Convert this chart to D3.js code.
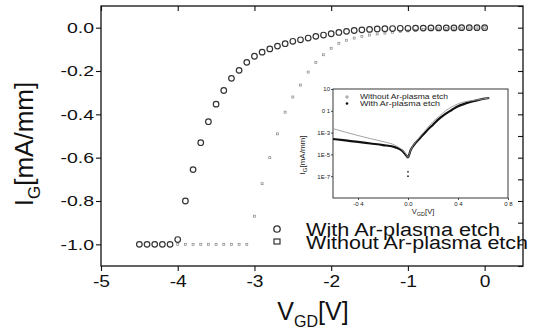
<!DOCTYPE html>
<html>
<head>
<meta charset="utf-8">
<script src="https://cdn.jsdelivr.net/npm/d3@7"></script>
<style>
  body { margin: 0; background: #fff; }
  svg { display: block; font-family: Arial, 'Liberation Sans', sans-serif; }
</style>
</head>
<body>
<script>
// main plot: gate current vs gate-drain voltage
const vWith = [-4.5, -4.4, -4.3, -4.2, -4.1, -4.0, -3.9, -3.8, -3.7, -3.6, -3.5, -3.4, -3.3, -3.2, -3.1,
  -3.0, -2.9, -2.8, -2.7, -2.6, -2.5, -2.4, -2.3, -2.2, -2.1, -2.0, -1.9, -1.8, -1.7, -1.6,
  -1.5, -1.4, -1.3, -1.2, -1.1, -1.0, -0.9, -0.8, -0.7, -0.6, -0.5, -0.4, -0.3, -0.2, -0.1, 0.0];
const iWith = [-1.0, -1.0, -1.0, -1.0, -1.0, -0.978, -0.80, -0.655, -0.531, -0.434, -0.353, -0.29, -0.234, -0.197, -0.16,
  -0.132, -0.113, -0.098, -0.085, -0.074, -0.063, -0.056, -0.048, -0.040, -0.034, -0.028, -0.022, -0.017, -0.013, -0.010,
  -0.008, -0.006, -0.005, -0.004, -0.003, -0.003, -0.002, -0.002, -0.001, -0.001, -0.001, -0.001, 0, 0, 0, 0];

const vWithout = [-4.0, -3.9, -3.8, -3.7, -3.6, -3.5, -3.4, -3.3, -3.2, -3.1,
  -3.0, -2.9, -2.8, -2.7, -2.6, -2.5, -2.4, -2.3, -2.2, -2.1, -2.0, -1.9, -1.8, -1.7, -1.6,
  -1.5, -1.4, -1.3, -1.2, -1.1, -1.0, -0.9, -0.8, -0.7, -0.6, -0.5, -0.4, -0.3, -0.2, -0.1, 0.0];
const iWithout = [-1.0, -1.0, -1.0, -1.0, -1.0, -1.0, -1.0, -1.0, -1.0, -1.0,
  -0.87, -0.72, -0.60, -0.49, -0.39, -0.32, -0.265, -0.205, -0.16, -0.125, -0.095, -0.072, -0.058, -0.048, -0.040,
  -0.034, -0.029, -0.025, -0.021, -0.018, -0.015, -0.012, -0.009, -0.007, -0.005, -0.004, -0.003, -0.002, -0.001, -0.001, 0];

const xTicks = [-5, -4, -3, -2, -1, 0];
const yTicks = [0.0, -0.2, -0.4, -0.6, -0.8, -1.0];
const legendLabels = ['With Ar-plasma etch', 'Without Ar-plasma etch'];

// inset: log |I_G| vs V_GD
const insetVWith = [-0.6, -0.5, -0.4, -0.3, -0.2, -0.1, -0.05, -0.02, 0, 0.02, 0.05, 0.1, 0.15, 0.2, 0.25, 0.3, 0.35, 0.4, 0.45, 0.5, 0.55, 0.6, 0.65];
const insetIWith = [2.6e-4, 1.9e-4, 1.4e-4, 1.0e-4, 7.2e-5, 4.4e-5, 2.3e-5, 1.0e-5, 5.4e-6, 2.3e-5, 8.1e-5, 3.5e-4, 1.5e-3, 5.3e-3, 1.9e-2, 5.3e-2, 0.12, 0.26, 0.43, 0.66, 0.9, 1.23, 1.5];
const insetVWithout = [-0.6, -0.5, -0.4, -0.3, -0.2, -0.1, -0.05, -0.02, 0, 0.02, 0.05, 0.1, 0.15, 0.2, 0.25, 0.3, 0.35, 0.4, 0.45, 0.5, 0.55, 0.6, 0.65];
const insetIWithout = [2.3e-3, 1.1e-3, 5.4e-4, 2.8e-4, 1.5e-4, 6.6e-5, 2.8e-5, 1.2e-5, 5.4e-6, 2.3e-5, 9e-5, 4.8e-4, 2.3e-3, 1e-2, 3.2e-2, 0.1, 0.23, 0.43, 0.66, 0.81, 1.0, 1.23, 1.5];
const insetScatterV = [0, 0];
const insetScatterI = [2.5e-7, 1.0e-7];
const insetXTicks = [-0.4, 0.0, 0.4, 0.8];
const insetYTicks = [10, 0.1, 1e-3, 1e-5, 1e-7];
const insetYLabels = ['10', '0 1', '1E-3', '1E-5', '1E-7'];
const insetLegend = ['Without Ar-plasma etch', 'With Ar-plasma etch'];

const width = 534, height = 329;
const svg = d3.select('body').append('svg')
  .attr('width', width)
  .attr('height', height);

const x = d3.scaleLinear().domain([-5, 0.5]).range([101, 523]);
const y = d3.scaleLinear().domain([-1.1, 0.1]).range([266, 6]);

// the scanned figure has its text a bit wider than normal Arial
function stretch(sel, k) {
  sel.each(function() {
    const w = this.getComputedTextLength();
    d3.select(this).attr('textLength', w * k).attr('lengthAdjust', 'spacingAndGlyphs');
  });
}

// frame
svg.append('rect')
  .attr('x', x(-5)).attr('y', y(0.1))
  .attr('width', x(0.5) - x(-5)).attr('height', y(-1.1) - y(0.1))
  .attr('fill', 'none').attr('stroke', '#111').attr('stroke-width', 1.3);

const fmt = d3.format('.1f');
const xMinor = d3.range(-5, 0.51, 0.5);
const yMinor = d3.range(-1.1, 0.101, 0.1);

// bottom axis
const axBottom = svg.append('g').attr('transform', 'translate(0,' + y(-1.1) + ')');
axBottom.call(d3.axisBottom(x).tickValues(xMinor).tickSize(3).tickFormat(''));
axBottom.call(d3.axisBottom(x).tickValues(xTicks).tickSize(5).tickPadding(5).tickFormat(d3.format('d')));
axBottom.selectAll('.domain').remove();
axBottom.selectAll('text').style('font-size', '16px').style('fill', '#111')
  .text(d => d < 0 ? '-' + Math.abs(d) : d)
  .call(stretch, 1.2);

// left axis
const axLeft = svg.append('g').attr('transform', 'translate(' + x(-5) + ',0)');
axLeft.call(d3.axisLeft(y).tickValues(yMinor).tickSize(3).tickFormat(''));
axLeft.call(d3.axisLeft(y).tickValues(yTicks).tickSize(5).tickPadding(2).tickFormat(d => fmt(d).replace('−', '-')));
axLeft.selectAll('.domain').remove();
axLeft.selectAll('text').style('font-size', '15px').style('fill', '#111')
  .call(stretch, 1.3);

// top and right: inward ticks
const axTop = svg.append('g').attr('transform', 'translate(0,' + y(0.1) + ')');
axTop.call(d3.axisBottom(x).tickValues(xMinor).tickSize(3).tickFormat(''));
axTop.call(d3.axisBottom(x).tickValues(xTicks).tickSize(5).tickFormat(''));
axTop.selectAll('.domain').remove();

const axRight = svg.append('g').attr('transform', 'translate(' + x(0.5) + ',0)');
axRight.call(d3.axisLeft(y).tickValues(yMinor).tickSize(5).tickFormat(''));
axRight.selectAll('.domain').remove();

svg.selectAll('.tick line').attr('stroke', '#111').attr('stroke-width', 1.1);

// axis titles
const xTitle = svg.append('text')
  .attr('x', 313).attr('y', 320)
  .attr('text-anchor', 'middle')
  .style('font-size', '25px').style('fill', '#111');
xTitle.append('tspan').text('V');
xTitle.append('tspan').attr('dy', 7).style('font-size', '16px').text('GD');
xTitle.append('tspan').attr('dy', -7).text('[V]');

const yTitle = svg.append('text')
  .attr('transform', 'translate(33,144) rotate(-90)')
  .attr('text-anchor', 'middle')
  .style('font-size', '26px').style('fill', '#111');
yTitle.append('tspan').text('I');
yTitle.append('tspan').attr('dy', 7).style('font-size', '17px').text('G');
yTitle.append('tspan').attr('dy', -7).text('[mA/mm]');

// data
const withData = vWith.map((v, i) => ({v: v, i: iWith[i]}));
const withoutData = vWithout.map((v, i) => ({v: v, i: iWithout[i]}));

svg.append('g').selectAll('rect')
  .data(withoutData)
  .enter()
  .append('rect')
    .attr('x', d => x(d.v) - 1)
    .attr('y', d => y(d.i) - 1)
    .attr('width', 2)
    .attr('height', 2)
    .attr('fill', 'none')
    .attr('stroke', '#888')
    .attr('stroke-width', 0.7);

svg.append('g').selectAll('circle')
  .data(withData)
  .enter()
  .append('circle')
    .attr('cx', d => x(d.v))
    .attr('cy', d => y(d.i))
    .attr('r', 2.8)
    .attr('fill', 'none')
    .attr('stroke', '#333')
    .attr('stroke-width', 1.2);

// legend
const legend = svg.append('g');
legend.append('circle').attr('cx', 277).attr('cy', 229).attr('r', 3.2)
  .attr('fill', 'none').attr('stroke', '#333').attr('stroke-width', 1.3);
legend.append('rect').attr('x', 274).attr('y', 239).attr('width', 6).attr('height', 5)
  .attr('fill', 'none').attr('stroke', '#333').attr('stroke-width', 1.2);
legend.selectAll('text')
  .data(legendLabels)
  .enter()
  .append('text')
    .attr('x', 306)
    .attr('y', (d, i) => 235.5 + i * 13)
    .attr('textLength', (d, i) => i === 0 ? 194 : 222)
    .attr('lengthAdjust', 'spacingAndGlyphs')
    .style('font-size', '18px')
    .style('fill', '#111')
    .text(d => d);

// inset
const ix = d3.scaleLinear().domain([-0.6, 0.8]).range([333, 508]);
const iy = d3.scaleLog().domain([1e-9, 10]).range([198, 89]);

const inset = svg.append('g');
inset.append('rect')
  .attr('x', ix(-0.6)).attr('y', iy(10))
  .attr('width', ix(0.8) - ix(-0.6)).attr('height', iy(1e-9) - iy(10))
  .attr('fill', '#fff').attr('stroke', '#222').attr('stroke-width', 0.9);

const ib = inset.append('g').attr('transform', 'translate(0,' + iy(1e-9) + ')');
ib.call(d3.axisBottom(ix).tickValues(insetXTicks).tickSize(2).tickPadding(2)
  .tickFormat(d => d === 0 ? '0.0' : (d < 0 ? '-' : '') + d3.format('.1f')(Math.abs(d)).replace('.', ' ')));
ib.selectAll('.domain').remove();
ib.selectAll('text').style('font-size', '6px').style('fill', '#222');

const il = inset.append('g').attr('transform', 'translate(' + ix(-0.6) + ',0)');
il.call(d3.axisLeft(iy).tickValues(insetYTicks).tickSize(2).tickPadding(1)
  .tickFormat((d, i) => insetYLabels[i]));
il.selectAll('.domain').remove();
il.selectAll('text').style('font-size', '6px').style('fill', '#222');
inset.selectAll('.tick line').attr('stroke', '#222').attr('stroke-width', 0.8);

const insetLine = d3.line()
  .x(d => ix(d.v))
  .y(d => iy(d.i))
  .curve(d3.curveMonotoneX);

inset.append('path')
  .datum(insetVWith.map((v, i) => ({v: v, i: insetIWith[i]})))
  .attr('d', insetLine)
  .attr('fill', 'none')
  .attr('stroke', '#111')
  .attr('stroke-width', 2.2);

inset.append('path')
  .datum(insetVWithout.map((v, i) => ({v: v, i: insetIWithout[i]})))
  .attr('d', insetLine)
  .attr('fill', 'none')
  .attr('stroke', '#999')
  .attr('stroke-width', 0.9);

inset.selectAll('.scatter')
  .data(insetScatterV.map((v, i) => ({v: v, i: insetScatterI[i]})))
  .enter()
  .append('circle')
    .attr('class', 'scatter')
    .attr('cx', d => ix(d.v))
    .attr('cy', d => iy(d.i))
    .attr('r', 0.9)
    .attr('fill', '#222');

// inset legend
inset.append('path').attr('d', 'M345,97 h4 M347,95 v4').attr('stroke', '#777').attr('stroke-width', 0.7);
inset.append('circle').attr('cx', 347).attr('cy', 103.5).attr('r', 1.3).attr('fill', '#111');
inset.selectAll('.ileg')
  .data(insetLegend)
  .enter()
  .append('text')
    .attr('class', 'ileg')
    .attr('x', 360)
    .attr('y', (d, i) => 99 + i * 6.5)
    .attr('textLength', (d, i) => i === 0 ? 88 : 80)
    .attr('lengthAdjust', 'spacingAndGlyphs')
    .style('font-size', '7px')
    .style('fill', '#222')
    .text(d => d);

// inset titles
const ixt = inset.append('text')
  .attr('x', 423).attr('y', 214)
  .attr('text-anchor', 'middle')
  .style('font-size', '7.5px').style('fill', '#222');
ixt.append('tspan').text('V');
ixt.append('tspan').attr('dy', 2).style('font-size', '5.5px').text('GD');
ixt.append('tspan').attr('dy', -2).text('[V]');

const iyt = inset.append('text')
  .attr('transform', 'translate(305,155) rotate(-90)')
  .attr('text-anchor', 'middle')
  .style('font-size', '8px').style('fill', '#222');
iyt.append('tspan').text('I');
iyt.append('tspan').attr('dy', 2).style('font-size', '6px').text('G');
iyt.append('tspan').attr('dy', -2).text('[mA/mm]');
</script>
</body>
</html>
